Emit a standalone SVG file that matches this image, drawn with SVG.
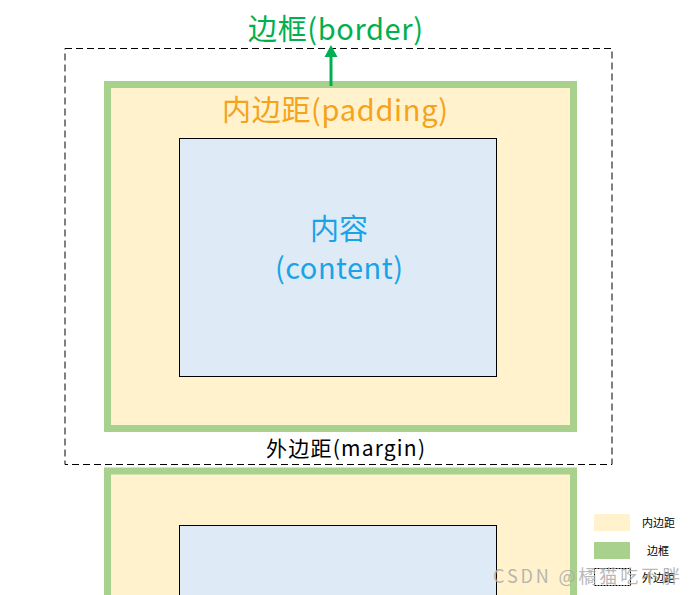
<svg xmlns="http://www.w3.org/2000/svg" width="695" height="595" viewBox="0 0 695 595">
<style>
.pad{fill:#FFF2CC;stroke:#A9D18E;stroke-width:7}
.content{fill:#DEEBF7;stroke:#000;stroke-width:1}
.margin{fill:none;stroke:#000;stroke-width:1;stroke-dasharray:7 4}
text{font-family:"Noto Sans CJK SC","Microsoft YaHei",sans-serif;text-anchor:middle}
.big{font-size:29px}
.leg{font-size:11px;fill:#000;text-anchor:start}
</style>
<rect width="695" height="595" fill="#fff"/>
<g id="margin-box">
<rect class="margin" x="65" y="48.5" width="547" height="416"/>
<text x="345.5" y="456" style="font-size:21px" fill="#000" textLength="159">外边距(margin)</text>
</g>
<g id="border-box">
<rect class="pad" x="107.5" y="84.5" width="466" height="344"/>
<text class="big" x="335" y="121" fill="#F5A31A" textLength="226">内边距(padding)</text>
</g>
<g id="content-box">
<rect class="content" x="179.5" y="138.5" width="317" height="238"/>
<text class="big" x="339" y="240" fill="#1AA3E6">内容</text>
<text class="big" x="339" y="279" fill="#1AA3E6" textLength="128">(content)</text>
</g>
<g id="next-box">
<rect class="pad" x="107.5" y="471" width="466" height="140"/>
<rect class="content" x="179.5" y="525.5" width="317" height="80"/>
</g>
<g id="border-label">
<text class="big" x="335.5" y="40" fill="#00B050" textLength="175">边框(border)</text>
</g>
<g id="connectors">
<line x1="331" y1="86" x2="331" y2="54" stroke="#00B050" stroke-width="3"/>
<polygon points="331,45 337.5,57 324.5,57" fill="#00B050"/>
</g>
<g id="legend">
<rect x="594" y="514" width="36" height="17" fill="#FFF2CC"/>
<text class="leg" x="642" y="527">内边距</text>
<rect x="594" y="542" width="36" height="17" fill="#A9D18E"/>
<text class="leg" x="647" y="555">边框</text>
<rect x="594.5" y="568.5" width="36" height="17" fill="none" stroke="#000" stroke-width="1" stroke-dasharray="2 1"/>
<text class="leg" x="642" y="582">外边距</text>
</g>
<g id="watermark">
<text x="493" y="583" style="font-size:18px;text-anchor:start" fill="#AAAAAA" fill-opacity="0.85" textLength="187">CSDN @橘猫吃不胖</text>
</g>
</svg>
